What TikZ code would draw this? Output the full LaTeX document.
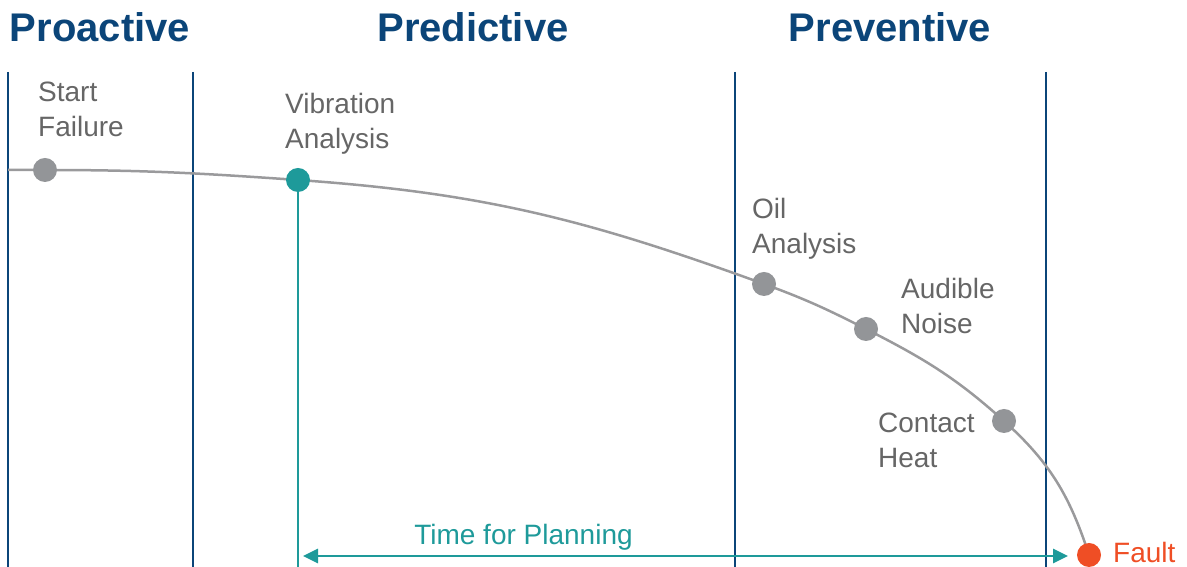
\documentclass[tikz,border=0pt]{standalone}
\usepackage{xcolor}
\usepackage{fontspec}
\setmainfont{Liberation Sans}
\usepackage{tikz}
\usetikzlibrary{calc,arrows.meta}

\definecolor{phasenavy}{HTML}{0B4579}
\definecolor{planteal}{HTML}{1E9A9A}
\definecolor{curvegray}{HTML}{9A9A9C}
\definecolor{dotgray}{HTML}{939598}
\definecolor{labelgray}{HTML}{666666}
\definecolor{faultred}{HTML}{EF4E25}

\begin{document}
\begin{tikzpicture}[x=1pt, y=1pt,
        phase/.style={font=\fontsize{40}{44}\selectfont\bfseries, text=phasenavy, inner sep=0pt, anchor=base},
        divider/.style={draw=phasenavy, line width=2.7pt},
        stage/.style={font=\fontsize{28}{35}\selectfont, text=labelgray, align=left, anchor=north west, inner sep=0pt},
        sign/.style={circle, fill=dotgray, minimum size=24pt, inner sep=0pt},
        wearline/.style={draw=curvegray, line width=2.5pt},
        planline/.style={draw=planteal, line width=2.7pt}
    ]
        \useasboundingbox (0,0) rectangle (1187,567);

        % phase headings
        \node[phase] (proactive) at (100,525) {Proactive};
        \node[phase] (predictive) at (473,525) {Predictive};
        \node[phase] (preventive) at (890,525) {Preventive};

        % phase dividers
        \foreach \xpos in {8,193,735,1046} {
            \draw[divider] (\xpos,495) -- (\xpos,0);
        }

        % points on the wear curve
        \coordinate (curvestart) at (8,397);
        \coordinate (startpt) at (45,397);
        \coordinate (vibpt) at (298,387);
        \coordinate (oilpt) at (764,283);
        \coordinate (audiblept) at (866,238);
        \coordinate (contactpt) at (1004,146);
        \coordinate (faultpt) at (1089,12);
        \coordinate (bottom) at (0,0);

        \draw[wearline] (curvestart) to[out=0, in=180] (startpt)
            to[out=0, in=176] (vibpt)
            to[out=-4, in=160] (oilpt)
            to[out=-20, in=153] (audiblept)
            to[out=-27, in=138] (contactpt)
            to[out=-42, in=108] (faultpt);

        \node[sign] (start) at (startpt) {};
        \draw[planline] (vibpt) -- (vibpt |- bottom);
        \node[sign, fill=planteal] (vib) at (vibpt) {};
        \node[sign] (oil) at (oilpt) {};
        \node[sign] (audible) at (audiblept) {};
        \node[sign] (contact) at (contactpt) {};
        \node[sign, fill=faultred] (fault) at (faultpt) {};

        % labels
        \node[stage] (startlabel) at (38,485) {Start\\Failure};
        \node[stage] (viblabel) at (285,474) {Vibration\\Analysis};
        \node[stage] (oillabel) at (752,369) {Oil\\Analysis};
        \node[stage] (audiblelabel) at (901,289) {Audible\\Noise};
        \node[stage] (contactlabel) at (878,154) {Contact\\Heat};
        \node[stage, anchor=base west, text=faultred] (faultlabel) at (1113,4) {Fault};

        % time for planning
        \coordinate (planstart) at (303,11);
        \coordinate (planend) at (1068,11);
        \draw[planline, {Triangle[length=15pt,width=14pt]}-{Triangle[length=15pt,width=14pt]}] (planstart) -- (planend);
        \node[stage, anchor=base, text=planteal] (planlabel) at (523.5,22) {Time for Planning};
    \end{tikzpicture}
\end{document}
